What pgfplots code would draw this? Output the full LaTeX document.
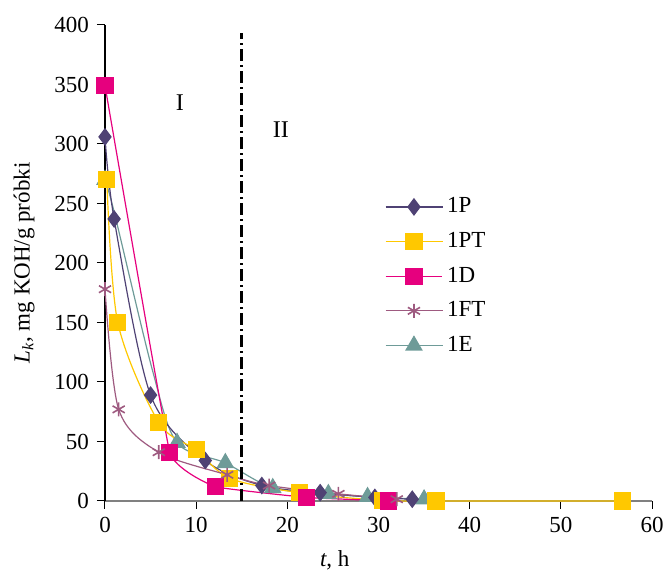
\documentclass[border=0pt]{standalone}
\usepackage{fontspec}
\setmainfont{Liberation Serif}
\usepackage{pgfplots}
\pgfplotsset{compat=1.18}

\definecolor{cP}{HTML}{4F4274}
\definecolor{cPT}{HTML}{FFC800}
\definecolor{cD}{HTML}{E6007E}
\definecolor{cFT}{HTML}{9E5A80}
\definecolor{cE}{HTML}{6E9B98}

\begin{document}
\fontsize{11.5}{13}\selectfont
\begin{tikzpicture}
\begin{axis}[
    scale only axis,
    width=273.5pt, height=238pt,
    xmin=0, xmax=60, ymin=0, ymax=400,
    xtick={0,10,...,60},
    ytick={0,50,...,400},
    axis x line=bottom,
    axis y line=left,
    axis line style={-},
    x axis line style={draw=gray, line width=1pt},
    y axis line style={draw=black, line width=0.6pt},
    tick align=outside,
    major tick length=4pt,
    tick style={black, line width=0.5pt},
    /pgf/number format/assume math mode=true,
    tick label style={font=\fontsize{11.5}{13}\selectfont},
    label style={font=\fontsize{11.5}{13}\selectfont},
    xlabel={\textit{t}, h},
    ylabel={\textit{L\textsubscript{k}}, mg KOH/g próbki},
    xlabel style={at={(ticklabel cs:0.42)}, anchor=north, yshift=-1pt},
    ylabel style={at={(ticklabel cs:0.5)}, anchor=south, yshift=2pt},
    clip=false,
    legend style={draw=none, fill=none, at={(0.5,0.655)}, anchor=north west,
        font=\fontsize{11.5}{13}\selectfont, row sep=4pt},
    legend cell align=left,
    legend image code/.code={
        \draw[mark repeat=2,mark phase=2,#1] plot coordinates {(0cm,0cm) (0.5cm,0cm) (1cm,0cm)};
    },
    every axis plot/.append style={line width=0.6pt, smooth, tension=0.5},
]
\coordinate (ll) at (rel axis cs:0,0);
\coordinate (ur) at (rel axis cs:1,1);
% 1E drawn first so that the other markers lie over it
\addplot[cE, forget plot, mark=triangle*, mark size=4.5pt, mark options={fill=cE, draw=cE},
    mark indices={1,4,5,6,7,8,9}] coordinates {
    (0,270) (1,243) (5.2,110) (7.9,49) (13.2,32) (18.4,11) (24.5,6) (28.8,3.5) (35,1.5)
};
\addplot[cP, mark=diamond*, mark size=4pt, mark options={fill=cP, draw=cP}] coordinates {
    (0,306) (1,237) (5,89) (11,34) (17.2,13) (23.6,7) (29.6,3) (33.7,1.5)
};
\addlegendentry{1P}
\addplot[cPT, mark=square*, mark size=4pt, mark options={fill=cPT, draw=cPT}] coordinates {
    (0.2,270) (1.4,150) (5.9,66) (10,43) (13.7,19) (21.3,7) (30.4,0.5) (36.3,0) (56.8,0)
};
\addlegendentry{1PT}
\addplot[cD, tension=0.15, mark=square*, mark size=4pt, mark options={fill=cD, draw=cD}] coordinates {
    (0,349) (7.1,41) (12.1,12) (22.1,3) (31.1,0)
};
\addlegendentry{1D}
\addplot[cFT, mark=asterisk, mark size=3.5pt, mark options={draw=cFT, line width=0.8pt}] coordinates {
    (0,178) (1.5,77) (5.9,41) (13.4,22) (18,13) (25.6,6) (32,1.5)
};
\addlegendentry{1FT}
\addlegendimage{cE, line width=0.6pt, mark=triangle*, mark size=4.5pt, mark options={fill=cE, draw=cE}}
\addlegendentry{1E}
\addplot[black, line width=1.6pt, dash pattern=on 6pt off 2pt on 1pt off 2pt, no markers, sharp plot, forget plot] coordinates {(15,0) (15,393)};
\node[font=\fontsize{12}{14}\selectfont] at (axis cs:8.2,335) {I};
\node[font=\fontsize{12}{14}\selectfont] at (axis cs:19.3,312) {II};
\end{axis}
\pgfresetboundingbox
\path ([xshift=-52.5pt, yshift=-34.5pt]ll) rectangle ([xshift=7.5pt, yshift=12.5pt]ur);
\end{tikzpicture}
\end{document}
